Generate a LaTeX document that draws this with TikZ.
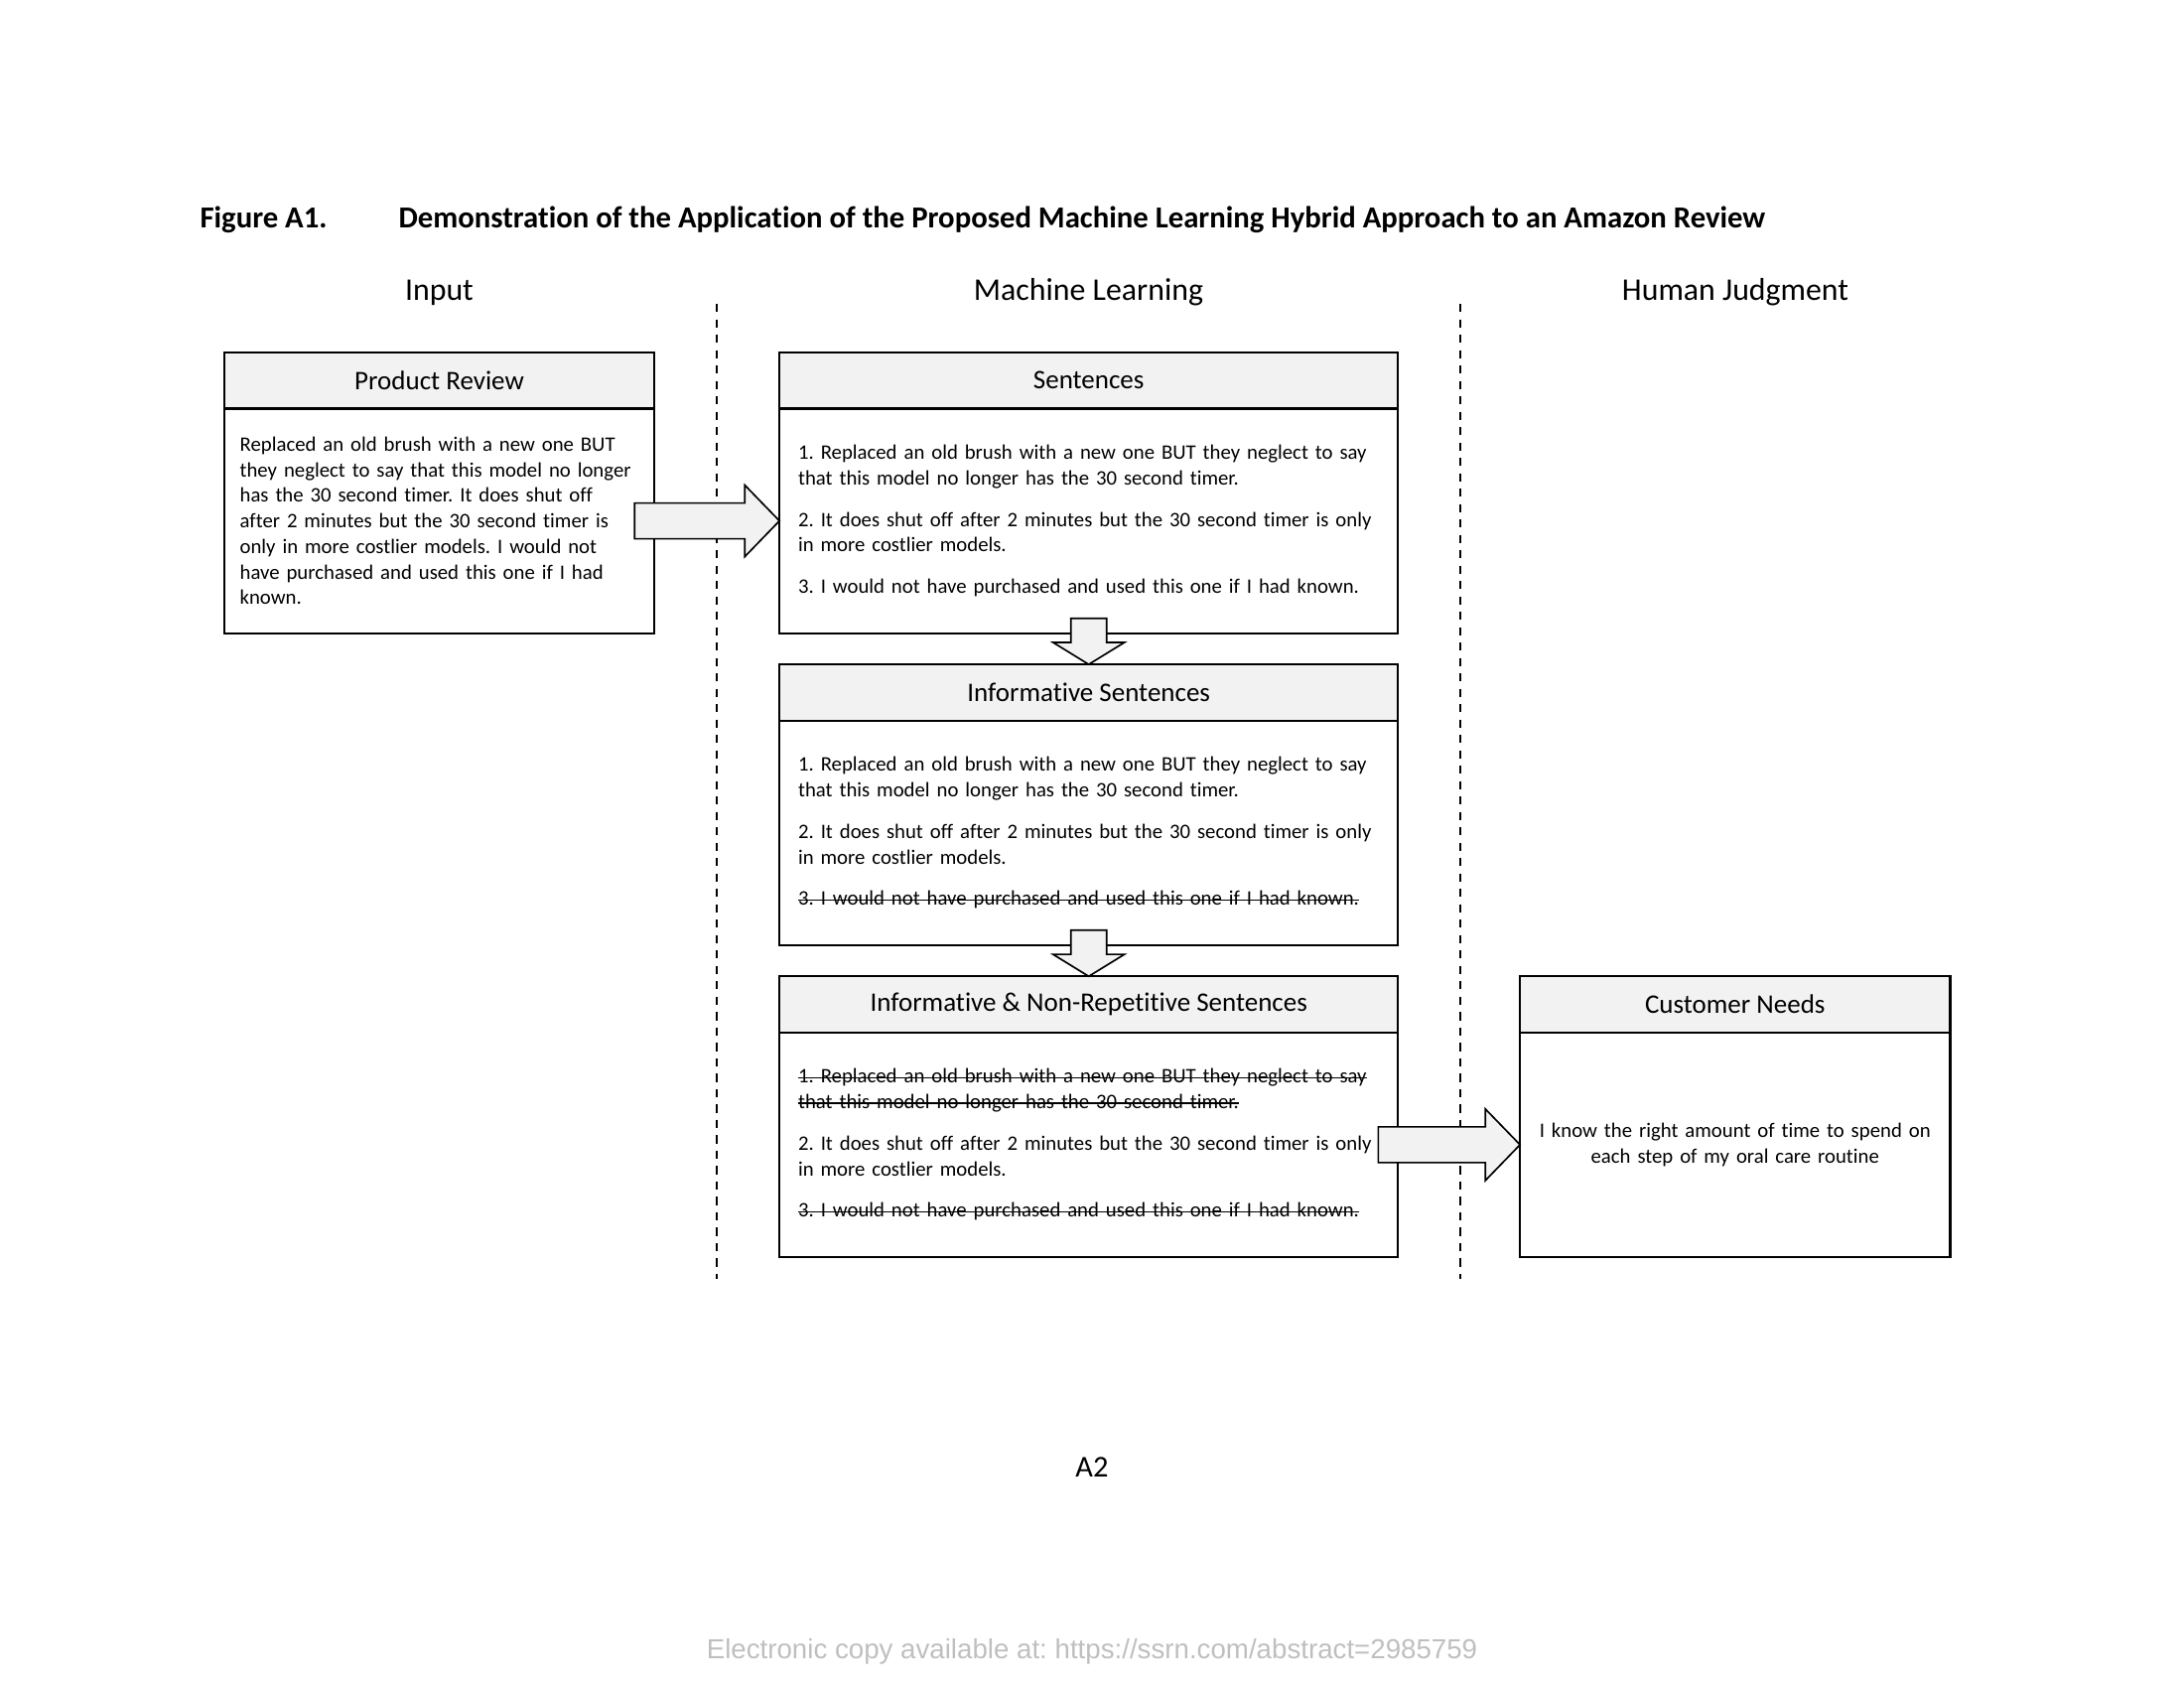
\documentclass[tikz,border=0pt]{standalone}
\usepackage{fontspec}
\setmainfont{Carlito}[Ligatures=NoCommon]
\newfontfamily\ssrnfont{Liberation Sans}
\usetikzlibrary{positioning,calc}
\frenchspacing

\definecolor{headgray}{HTML}{F2F2F2}
\definecolor{ssrngray}{HTML}{BFBFBF}

% struck-out sentence
\newcommand\strikeline[1]{\leavevmode\setbox0\hbox{#1}\rlap{\rule[0.5ex]{\wd0}{0.45pt}}\box0}

\begin{document}
\begin{tikzpicture}[
    x=0.0127cm, y=-0.0127cm,
    head/.style={rectangle, draw, line width=0.8pt, fill=headgray, outer sep=0pt, inner sep=0pt, minimum height=0.718cm, font=\fontsize{9.75}{12}\selectfont},
    body/.style={rectangle, draw, line width=0.8pt, fill=white, outer sep=0pt, inner ysep=0pt, minimum height=2.87cm, align=left, font=\fontsize{7.5}{9.3}\selectfont},
    narrow/.style={minimum width=5.5cm},
    wide/.style={minimum width=7.91cm},
    caption/.style={anchor=base west, inner sep=0pt, font=\bfseries\fontsize{11.1}{13}\selectfont},
    colhead/.style={anchor=base, font=\fontsize{11.5}{14}\selectfont},
    sepline/.style={draw, line width=0.6pt, dash pattern=on 3pt off 2.6pt},
    fat/.style={draw, line width=0.6pt, fill=headgray, line join=miter},
    fatright/.style={fat, to path={let \p1=(\tikztostart), \p2=(\tikztotarget) in
        (\x1-7.2pt,\y2+6.5pt) -- (\x2-12.6pt,\y2+6.5pt) -- (\x2-12.6pt,\y2+13pt)
        -- (\x2,\y2) -- (\x2-12.6pt,\y2-13pt) -- (\x2-12.6pt,\y2-6.5pt)
        -- (\x1-7.2pt,\y2-6.5pt) -- cycle}},
    fatdown/.style={fat, to path={let \p1=(\tikztostart), \p2=(\tikztotarget) in
        (\x2-6.5pt,\y1+5.4pt) -- (\x2-6.5pt,\y2+8pt) -- (\x2-13pt,\y2+8pt)
        -- (\x2,\y2) -- (\x2+13pt,\y2+8pt) -- (\x2+6.5pt,\y2+8pt)
        -- (\x2+6.5pt,\y1+5.4pt) -- cycle}}
]
    \useasboundingbox (0,0) rectangle (2200,1700);

    % caption and column titles
    \node [caption] (figno) at (201,229) {Figure A1.};
    \node [caption] (title) at (401,229) {Demonstration of the Application of the Proposed Machine Learning Hybrid Approach to an Amazon Review};
    \node [colhead] (colin) at (442.5,302) {Input};
    \node [colhead] (colml) at (1096.5,302) {Machine Learning};
    \node [colhead] (colhj) at (1748,302) {Human Judgment};

    \draw [sepline] (722,306) -- (722,1288);
    \draw [sepline] (1471,306) -- (1471,1288);

    % input
    \node [head, narrow] (prhead) at (442.5,383.25) {Product Review};
    \node [body, narrow, text width=5.1cm, inner xsep=0.2cm, below=0pt of prhead] (prbody) {Replaced an old brush with a new one BUT\\they neglect to say that this model no longer\\has the 30 second timer. It does shut off\\after 2 minutes but the 30 second timer is\\only in more costlier models. I would not\\have purchased and used this one if I had\\known.};

    % machine learning
    \node [head, wide, right=1.6cm of prhead] (senthead) {Sentences};
    \node [body, wide, text width=7.43cm, inner xsep=0.24cm, below=0pt of senthead] (sentbody) {1. Replaced an old brush with a new one BUT they neglect to say\\that this model no longer has the 30 second timer.\\[5.8pt]2. It does shut off after 2 minutes but the 30 second timer is only\\in more costlier models.\\[5.8pt]3. I would not have purchased and used this one if I had known.};

    \node [head, wide, below=0.4cm of sentbody] (infohead) {Informative Sentences};
    \node [body, wide, text width=7.43cm, inner xsep=0.24cm, below=0pt of infohead] (infobody) {1. Replaced an old brush with a new one BUT they neglect to say\\that this model no longer has the 30 second timer.\\[5.8pt]2. It does shut off after 2 minutes but the 30 second timer is only\\in more costlier models.\\[5.8pt]\strikeline{3. I would not have purchased and used this one if I had known.}};

    \node [head, wide, below=0.4cm of infobody] (nrhead) {Informative \& Non-Repetitive Sentences};
    \node [body, wide, text width=7.43cm, inner xsep=0.24cm, below=0pt of nrhead] (nrbody) {\strikeline{1. Replaced an old brush with a new one BUT they neglect to say}\\\strikeline{that this model no longer has the 30 second timer.}\\[5.8pt]2. It does shut off after 2 minutes but the 30 second timer is only\\in more costlier models.\\[5.8pt]\strikeline{3. I would not have purchased and used this one if I had known.}};

    % human judgment
    \node [head, narrow, right=1.56cm of nrhead] (cnhead) {Customer Needs};
    \node [body, narrow, text width=5.3cm, inner xsep=0.1cm, align=center, below=0pt of cnhead] (cnbody) {I know the right amount of time to spend on\\each step of my oral care routine};

    \draw [fatright] (prbody.east) to (sentbody.west);
    \draw [fatdown] (sentbody.south) to (infohead.north);
    \draw [fatdown] (infobody.south) to (nrhead.north);
    \draw [fatright] (nrbody.east) to (cnbody.west);

    % page footer
    \node [anchor=base, font=\fontsize{11}{13}\selectfont] (pageno) at (1100,1487) {A2};
    \node [anchor=base, text=ssrngray, font=\ssrnfont\fontsize{10}{12}\selectfont] (ssrn) at (1100,1670) {Electronic copy available at: https://ssrn.com/abstract=2985759};
\end{tikzpicture}
\end{document}
